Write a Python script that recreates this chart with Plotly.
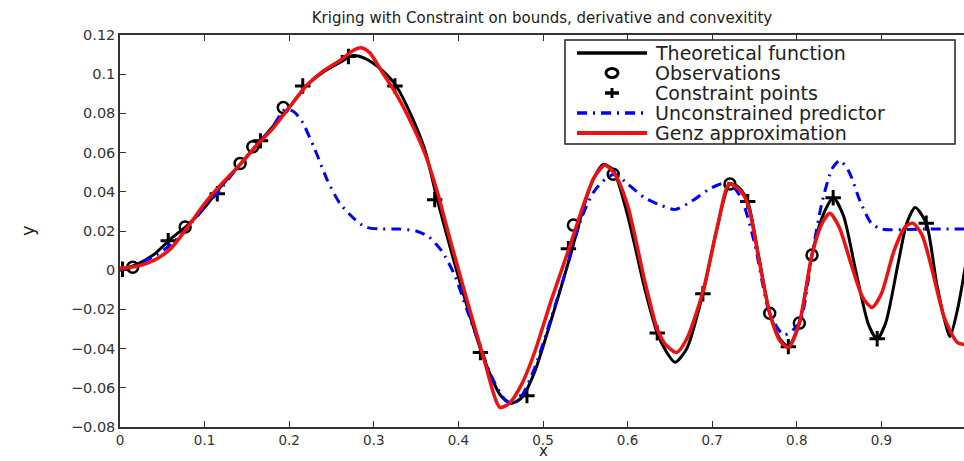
import plotly.graph_objects as go

# ---------------- data ----------------
theo_x = [0, 0.02, 0.04, 0.06, 0.08, 0.1, 0.12, 0.14, 0.16, 0.18, 0.2, 0.22, 0.24, 0.26, 0.275,
          0.29, 0.31, 0.325, 0.34, 0.36, 0.375, 0.39, 0.41, 0.43, 0.45, 0.462, 0.475, 0.49, 0.51,
          0.53, 0.55, 0.56, 0.571, 0.583, 0.6, 0.62, 0.635, 0.645, 0.656, 0.67, 0.689, 0.705, 0.721,
          0.732, 0.742, 0.755, 0.768, 0.78, 0.79, 0.803, 0.818, 0.83, 0.843, 0.855, 0.87, 0.885,
          0.895, 0.905, 0.92, 0.93, 0.94, 0.953, 0.965, 0.975, 0.981, 0.99, 1.0]
theo_y = [0.0, 0.003, 0.008, 0.016, 0.023, 0.032, 0.043, 0.053, 0.063, 0.073, 0.083, 0.094, 0.101,
          0.106, 0.1095, 0.108, 0.102, 0.095, 0.083, 0.062, 0.036, 0.012, -0.018, -0.045, -0.064,
          -0.068, -0.065, -0.052, -0.025, 0.004, 0.035, 0.047, 0.054, 0.051, 0.028, -0.009, -0.032,
          -0.041, -0.047, -0.040, -0.012, 0.020, 0.044, 0.042, 0.035, 0.007, -0.022, -0.035, -0.039,
          -0.027, 0.008, 0.027, 0.037, 0.028, -0.001, -0.028, -0.035, -0.027, 0.004, 0.024, 0.032,
          0.024, -0.006, -0.026, -0.034, -0.020, 0.004]

genz_x = [0, 0.02, 0.04, 0.06, 0.08, 0.1, 0.12, 0.14, 0.16, 0.18, 0.2, 0.22, 0.24, 0.26, 0.275,
          0.285, 0.295, 0.31, 0.325, 0.34, 0.36, 0.375, 0.39, 0.41, 0.43, 0.449, 0.46, 0.475, 0.49,
          0.51, 0.53, 0.55, 0.56, 0.573, 0.585, 0.6, 0.62, 0.635, 0.645, 0.658, 0.67, 0.689, 0.705,
          0.72, 0.732, 0.742, 0.755, 0.768, 0.78, 0.79, 0.803, 0.818, 0.83, 0.839, 0.85, 0.865,
          0.878, 0.889, 0.9, 0.915, 0.928, 0.937, 0.948, 0.96, 0.975, 0.99, 1.0]
genz_y = [0.001, 0.002, 0.005, 0.011, 0.022, 0.034, 0.044, 0.053, 0.063, 0.072, 0.083, 0.094,
          0.1015, 0.107, 0.112, 0.1135, 0.111, 0.101, 0.091, 0.079, 0.060, 0.040, 0.016, -0.015,
          -0.045, -0.070, -0.068, -0.058, -0.042, -0.015, 0.010, 0.036, 0.047, 0.0535, 0.049, 0.033,
          -0.005, -0.030, -0.038, -0.042, -0.035, -0.011, 0.020, 0.044, 0.041, 0.034, 0.006, -0.022,
          -0.036, -0.0395, -0.027, 0.008, 0.024, 0.029, 0.022, 0.002, -0.014, -0.019, -0.012, 0.010,
          0.022, 0.024, 0.018, 0.0, -0.025, -0.037, -0.038]

unc_x = [0, 0.02, 0.04, 0.06, 0.08, 0.1, 0.12, 0.14, 0.16, 0.18, 0.195, 0.205, 0.215, 0.23, 0.245,
         0.26, 0.275, 0.29, 0.31, 0.33, 0.35, 0.365, 0.38, 0.395, 0.41, 0.425, 0.44, 0.455, 0.465,
         0.475, 0.49, 0.51, 0.53, 0.545, 0.56, 0.575, 0.585, 0.6, 0.62, 0.64, 0.656, 0.675, 0.695,
         0.71, 0.722, 0.735, 0.75, 0.768, 0.785, 0.803, 0.818, 0.83, 0.842, 0.851, 0.862, 0.875,
         0.888, 0.9, 0.95, 1.0]
unc_y = [0.0, 0.003, 0.007, 0.013, 0.022, 0.032, 0.042, 0.053, 0.063, 0.073, 0.082, 0.081, 0.076,
         0.062, 0.046, 0.034, 0.027, 0.022, 0.021, 0.021, 0.020, 0.017, 0.010, -0.002, -0.020,
         -0.038, -0.055, -0.066, -0.068, -0.064, -0.050, -0.024, 0.004, 0.026, 0.040, 0.047,
         0.049, 0.044, 0.037, 0.033, 0.031, 0.035, 0.041, 0.044, 0.044, 0.036, 0.014, -0.022,
         -0.033, -0.027, 0.008, 0.035, 0.052, 0.056, 0.050, 0.035, 0.024, 0.021, 0.021, 0.021]

obs_x = [0.015, 0.077, 0.142, 0.157, 0.193, 0.536, 0.583, 0.721, 0.768, 0.803, 0.818]
obs_y = [0.0015, 0.022, 0.0545, 0.063, 0.083, 0.023, 0.049, 0.044, -0.022, -0.027, 0.0077]

con_x = [0.003, 0.057, 0.115, 0.166, 0.216, 0.27, 0.325, 0.372, 0.426, 0.481, 0.53, 0.635,
         0.689, 0.742, 0.79, 0.843, 0.895, 0.953]
con_y = [0.0005, 0.015, 0.039, 0.066, 0.094, 0.109, 0.094, 0.036, -0.042, -0.064, 0.011, -0.032,
         -0.012, 0.035, -0.039, 0.037, -0.035, 0.024]

x_ticks = [0, 0.1, 0.2, 0.3, 0.4, 0.5, 0.6, 0.7, 0.8, 0.9, 1.0]
x_tick_text = ["0", "0.1", "0.2", "0.3", "0.4", "0.5", "0.6", "0.7", "0.8", "0.9", "1"]
y_ticks = [-0.08, -0.06, -0.04, -0.02, 0, 0.02, 0.04, 0.06, 0.08, 0.1, 0.12]
y_tick_text = ["\u22120.08", "\u22120.06", "\u22120.04", "\u22120.02", "0", "0.02", "0.04",
               "0.06", "0.08", "0.1", "0.12"]

title_text = "Kriging with Constraint on bounds, derivative and convexitity"
x_label = "x"
y_label = "y"
legend_names = ["Theoretical function", "Observations", "Constraint points",
                "Unconstrained predictor", "Genz approximation"]

# ---------------- styling ----------------
FONT = "DejaVu Sans, Liberation Sans, Arial, sans-serif"
AX = "#333333"
TXT = "#222222"
BLUE_DASH = "10px,6px,2px,6px"

W, H = 964, 461
ML, MR, MT, MB = 120, 0, 35, 34
PW, PH = W - ML - MR, H - MT - MB


def px(xp):  # pixel column -> paper x
    return (xp - ML) / PW


def py(yp):  # pixel row -> paper y
    return (H - MB - yp) / PH


fig = go.Figure()
fig.add_trace(go.Scatter(x=theo_x, y=theo_y, mode="lines", name=legend_names[0],
                         line=dict(color="black", width=3, shape="spline", smoothing=0.7)))
fig.add_trace(go.Scatter(x=obs_x, y=obs_y, mode="markers", name=legend_names[1],
                         marker=dict(symbol="circle-open", size=11, color="black",
                                     line=dict(width=2.5, color="black"))))
fig.add_trace(go.Scatter(x=con_x, y=con_y, mode="markers", name=legend_names[2],
                         marker=dict(symbol="cross-thin-open", size=11, color="black",
                                     line=dict(width=3, color="black"))))
fig.add_trace(go.Scatter(x=unc_x, y=unc_y, mode="lines", name=legend_names[3],
                         line=dict(color="#0000ff", width=3, dash=BLUE_DASH,
                                   shape="spline", smoothing=0.7)))
fig.add_trace(go.Scatter(x=genz_x, y=genz_y, mode="lines", name=legend_names[4],
                         line=dict(color="#ee1111", width=3.5, shape="spline", smoothing=0.7)))

fig.update_layout(
    width=W, height=H,
    margin=dict(l=ML, r=MR, t=MT, b=MB),
    paper_bgcolor="white", plot_bgcolor="white",
    showlegend=False,
    title=dict(text=title_text, x=0.5, xanchor="center", xref="paper",
               y=1 - 18 / H, yanchor="middle", yref="container",
               font=dict(family=FONT, size=15, color=TXT)),
    xaxis=dict(range=[0, (W - ML) / 846.0], tickvals=x_ticks, ticktext=x_tick_text,
               showline=True, linecolor=AX, linewidth=1.5, mirror="ticks",
               ticks="inside", ticklen=6, tickwidth=1.3, tickcolor=AX,
               showgrid=False, zeroline=False,
               tickfont=dict(family=FONT, size=13.5, color=AX)),
    yaxis=dict(range=[-0.08, 0.12], tickvals=y_ticks, ticktext=y_tick_text,
               showline=True, linecolor=AX, linewidth=1.5, mirror=False,
               ticks="inside", ticklen=6, tickwidth=1.3, tickcolor=AX,
               showgrid=False, zeroline=False,
               tickfont=dict(family=FONT, size=14.5, color=AX)),
    yaxis2=dict(overlaying="y", side="right", matches="y", tickvals=y_ticks,
                showticklabels=False, showline=False, showgrid=False, zeroline=False,
                ticks="inside", ticklen=6, tickwidth=1.3, tickcolor=AX),
)

# axis titles
fig.add_annotation(text=x_label, xref="paper", yref="paper", x=px(543), y=0,
                   yanchor="bottom", yshift=-MB, borderpad=0, showarrow=False,
                   font=dict(family=FONT, size=15, color=TXT))
fig.add_annotation(text=y_label, xref="paper", yref="paper", x=0, y=py(231),
                   xanchor="center", xshift=-(ML - 27), textangle=-90, showarrow=False,
                   font=dict(family=FONT, size=18, color=TXT))

# ---------------- legend (box, samples and labels) ----------------
fig.add_shape(type="rect", xref="paper", yref="paper",
              x0=px(565), x1=px(955), y0=py(144), y1=py(40),
              line=dict(color=TXT, width=1.5), fillcolor="white", layer="above")
rows = [53, 73, 93, 113, 133]
sx0, sx1, sxc = 577, 647, 612
fig.add_shape(type="line", xref="paper", yref="paper", x0=px(sx0), x1=px(sx1),
              y0=py(rows[0]), y1=py(rows[0]), line=dict(color="black", width=3.5), layer="above")
fig.add_shape(type="circle", xref="paper", yref="paper", x0=px(sxc - 6), x1=px(sxc + 6),
              y0=py(rows[1] + 4.5), y1=py(rows[1] - 4.5),
              line=dict(color="black", width=3), fillcolor="rgba(0,0,0,0)", layer="above")
fig.add_shape(type="line", xref="paper", yref="paper", x0=px(sxc - 7), x1=px(sxc + 7),
              y0=py(rows[2]), y1=py(rows[2]), line=dict(color="black", width=3.5), layer="above")
fig.add_shape(type="line", xref="paper", yref="paper", x0=px(sxc), x1=px(sxc),
              y0=py(rows[2] + 5), y1=py(rows[2] - 5), line=dict(color="black", width=3), layer="above")
fig.add_shape(type="line", xref="paper", yref="paper", x0=px(sx0), x1=px(sx1),
              y0=py(rows[3]), y1=py(rows[3]), line=dict(color="#0000ff", width=3.5, dash=BLUE_DASH),
              layer="above")
fig.add_shape(type="line", xref="paper", yref="paper", x0=px(sx0), x1=px(sx1),
              y0=py(rows[4]), y1=py(rows[4]), line=dict(color="#ee1111", width=4), layer="above")
for name, r in zip(legend_names, rows):
    fig.add_annotation(text=name, xref="paper", yref="paper", x=px(653), y=py(r),
                       xanchor="left", yanchor="middle", showarrow=False,
                       font=dict(family=FONT, size=19, color=TXT))

fig.write_html("out.html")
